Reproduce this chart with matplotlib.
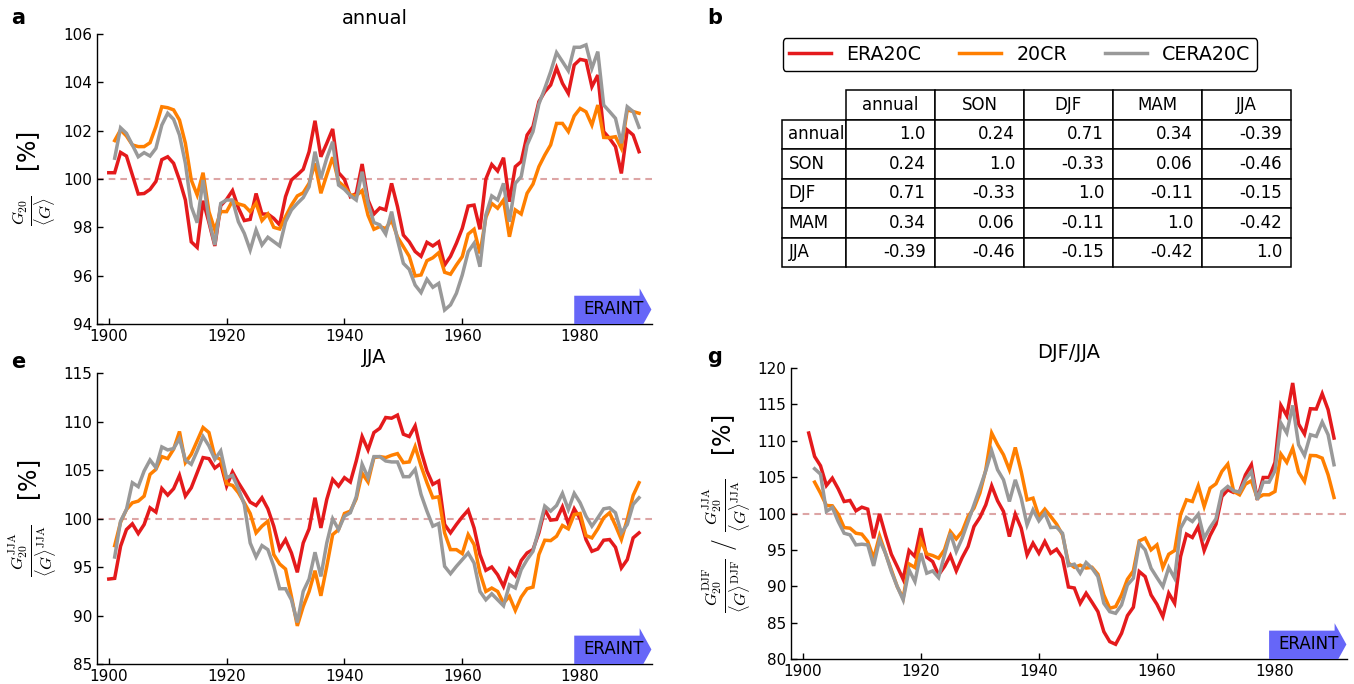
import numpy as np
import matplotlib
matplotlib.use('Agg')
import matplotlib.pyplot as plt
import matplotlib.transforms as mtransforms
from matplotlib.patches import Polygon
from matplotlib.table import Table

plt.rcParams['font.family'] = ['DejaVu Sans']
plt.rcParams['mathtext.fontset'] = 'cm'

# ---------------- data ----------------
series_names = ['ERA20C', '20CR', 'CERA20C']

# panel a (annual)
annual_era20c_start = 1900
annual_era20c = [100.26, 100.26, 101.1, 100.95, 100.17, 99.38, 99.4, 99.57, 99.9, 100.8,
                 100.92, 100.65, 99.96, 99.13, 97.4, 97.17, 99.1, 98.2, 97.23, 98.9,
                 99.16, 99.52, 98.8, 98.28, 98.33, 99.4, 98.55, 98.55, 98.37, 98.1,
                 99.27, 99.96, 100.17, 100.4, 101.13, 102.41, 100.92, 101.48, 102.07, 100.26,
                 99.99, 99.27, 99.4, 100.62, 99.13, 98.55, 98.8, 98.72, 99.82, 98.86,
                 97.68, 97.4, 97.0, 96.8, 97.38, 97.23, 97.4, 96.44, 96.8, 97.34,
                 97.96, 98.88, 98.92, 97.92, 100.0, 100.6, 100.33, 100.88, 99.06, 100.51,
                 100.72, 101.82, 102.17, 103.2, 103.61, 103.89, 104.6, 103.96, 103.54, 104.72,
                 104.95, 104.9, 103.82, 104.3, 101.96, 101.68, 101.34, 100.23, 102.03, 101.82,
                 101.13]
annual_20cr_start = 1901
annual_20cr = [101.59, 102.03, 101.78, 101.41, 101.34, 101.34, 101.5, 102.17, 102.99, 102.95,
               102.86, 102.44, 101.48, 99.96, 99.34, 100.26, 98.65, 97.89, 98.65, 98.65,
               99.1, 98.97, 98.9, 98.65, 99.0, 98.28, 98.55, 98.0, 97.93, 98.44,
               98.92, 99.3, 99.43, 99.82, 100.65, 99.41, 100.17, 100.9, 99.89, 99.68,
               99.34, 99.31, 99.52, 98.5, 97.92, 98.03, 97.95, 98.3, 97.6, 97.2,
               96.8, 95.99, 96.03, 96.62, 96.74, 96.95, 96.14, 96.06, 96.44, 96.79,
               97.72, 97.92, 96.92, 98.41, 98.99, 98.79, 99.13, 97.61, 98.72, 98.55,
               99.41, 99.79, 100.51, 100.99, 101.41, 102.3, 102.3, 101.96, 102.61, 102.92,
               102.78, 102.23, 103.06, 101.72, 101.71, 101.75, 101.27, 102.86, 102.79, 102.72]
annual_cera20c_start = 1901
annual_cera20c = [100.86, 102.12, 101.89, 101.41, 100.92, 101.09, 100.95, 101.27, 102.23, 102.72,
                  102.47, 101.82, 100.65, 98.86, 98.19, 99.96, 98.3, 97.27, 98.99, 99.13,
                  99.13, 98.23, 97.75, 97.06, 97.89, 97.27, 97.59, 97.41, 97.23, 98.23,
                  98.72, 98.99, 99.23, 99.68, 101.13, 100.03, 100.86, 101.54, 99.75, 99.57,
                  99.31, 99.13, 100.3, 98.99, 98.2, 98.1, 97.72, 98.65, 97.48, 96.51,
                  96.26, 95.61, 95.3, 95.85, 95.52, 95.68, 94.58, 94.79, 95.27, 96.03,
                  96.99, 97.34, 96.37, 98.51, 99.3, 99.13, 99.82, 98.23, 99.82, 100.1,
                  101.41, 101.96, 103.1, 103.75, 104.44, 105.23, 104.86, 104.48, 105.45, 105.45,
                  105.55, 104.58, 105.27, 103.06, 102.79, 102.51, 101.48, 102.99, 102.79, 102.14]

# panel e (JJA)
jja_era20c_start = 1900
jja_era20c = [93.76, 93.83, 97.14, 98.86, 99.45, 98.45, 99.38, 101.1, 100.66, 103.1,
              102.41, 103.07, 104.45, 102.31, 103.17, 104.72, 106.28, 106.17, 105.2, 105.66,
              103.34, 104.8, 103.69, 102.72, 101.69, 101.34, 102.14, 101.0, 99.21, 96.86,
              97.83, 96.45, 94.45, 97.48, 98.93, 102.14, 99.03, 101.97, 104.03, 103.34,
              104.21, 103.76, 105.93, 108.45, 107.07, 108.86, 109.3, 110.41, 110.34, 110.66,
              108.69, 108.45, 109.55, 106.97, 104.9, 103.52, 103.86, 99.38, 98.52, 99.38,
              100.17, 100.86, 99.03, 96.28, 94.66, 95.0, 94.2, 93.0, 94.79, 94.1,
              95.66, 96.45, 96.8, 98.52, 100.93, 99.83, 99.9, 101.2, 99.48, 101.0,
              99.97, 97.83, 96.62, 96.86, 97.76, 97.83, 97.03, 94.9, 95.76, 98.0, 98.52]
jja_20cr_start = 1901
jja_20cr = [97.2, 99.62, 100.93, 101.62, 101.79, 102.31, 104.55, 105.07, 106.38, 106.17,
            107.14, 108.97, 105.76, 106.62, 108.0, 109.38, 108.86, 106.38, 106.1, 103.59,
            103.41, 102.66, 101.62, 100.52, 98.52, 99.21, 99.72, 96.28, 95.31, 94.79,
            91.97, 88.93, 90.93, 92.48, 94.62, 92.03, 95.07, 98.34, 98.86, 100.52,
            100.76, 102.03, 104.66, 103.76, 106.28, 106.38, 106.28, 106.52, 106.69, 105.76,
            105.83, 107.41, 105.41, 103.69, 102.14, 102.24, 98.52, 96.79, 96.79, 96.38,
            98.34, 97.31, 94.38, 92.48, 92.83, 92.48, 91.28, 91.97, 90.52, 91.9,
            92.76, 92.93, 96.28, 97.76, 97.72, 98.17, 99.28, 98.93, 100.41, 100.52,
            98.24, 98.0, 98.93, 100.07, 100.59, 99.28, 97.83, 99.9, 102.38, 103.69]
jja_cera20c_start = 1901
jja_cera20c = [96.03, 99.72, 100.93, 103.69, 103.28, 104.9, 106.03, 105.24, 107.38, 107.07,
               107.21, 108.24, 106.03, 105.59, 106.97, 108.45, 107.48, 106.1, 106.97, 104.21,
               104.45, 103.07, 101.45, 97.48, 96.03, 97.21, 96.79, 95.07, 92.76, 92.76,
               91.62, 89.28, 92.48, 93.76, 96.52, 94.03, 97.48, 99.97, 98.86, 100.24,
               100.59, 102.24, 105.59, 104.21, 106.38, 106.38, 105.93, 105.83, 105.83, 104.31,
               104.31, 105.07, 102.48, 100.76, 99.21, 99.48, 95.07, 94.31, 95.07, 95.76,
               96.45, 95.41, 92.48, 91.62, 92.24, 91.62, 91.0, 93.17, 92.83, 94.72,
               95.76, 96.62, 98.86, 101.28, 100.76, 101.34, 102.59, 100.93, 102.59, 101.62,
               100.24, 99.21, 100.07, 101.0, 101.1, 100.59, 98.52, 99.38, 101.45, 102.14]

# panel g (DJF/JJA)
ratio_era20c_start = 1901
ratio_era20c = [111.06, 107.84, 106.56, 103.85, 104.86, 103.39, 101.65, 101.79, 100.37, 100.87,
                100.6, 96.6, 99.95, 97.06, 94.4, 92.71, 90.96, 94.91, 94.08, 97.98,
                93.99, 93.39, 91.56, 92.71, 94.22, 92.11, 93.94, 95.46, 98.21, 99.45,
                101.19, 103.81, 101.74, 100.28, 96.83, 99.91, 97.98, 94.31, 95.92, 94.54,
                96.15, 94.54, 95.09, 93.9, 89.9, 89.76, 87.66, 89.04, 87.8, 86.51,
                83.76, 82.39, 82.02, 83.53, 85.96, 87.11, 92.02, 91.33, 88.81, 87.52,
                85.83, 89.04, 87.66, 94.08, 97.16, 96.7, 98.21, 94.91, 96.97, 98.53,
                102.34, 103.26, 102.89, 103.03, 105.32, 106.7, 101.88, 104.95, 104.95, 107.02,
                114.86, 113.44, 117.94, 112.29, 110.92, 114.4, 114.36, 116.47, 114.27, 110.37]
ratio_20cr_start = 1902
ratio_20cr = [104.31, 102.8, 101.1, 101.06, 99.91, 98.07, 97.98, 97.29, 97.16,
              96.15, 93.85, 96.93, 94.54, 92.25, 89.95, 88.35, 93.07, 92.57, 96.28,
              94.45, 94.22, 93.85, 95.0, 97.52, 96.51, 97.52, 99.59, 100.73, 102.8,
              106.01, 111.06, 109.45, 108.07, 106.01, 109.08, 105.78, 101.88, 102.11, 99.59,
              100.6, 99.59, 98.53, 97.06, 93.2, 92.6, 92.9, 92.5, 92.6, 91.65,
              88.81, 86.97, 87.2, 88.81, 90.96, 92.11, 96.24, 96.61, 95.0, 95.69,
              92.57, 94.4, 94.91, 99.82, 101.88, 101.65, 103.81, 100.96, 103.49, 104.08,
              105.78, 106.79, 103.03, 102.57, 104.04, 104.5, 102.11, 102.57, 102.57, 103.03,
              108.17, 107.02, 108.99, 105.69, 104.4, 107.98, 107.94, 107.61, 105.32, 102.2]
ratio_cera20c_start = 1902
ratio_cera20c = [106.15, 105.41, 100.28, 100.83, 98.9, 97.29, 97.06, 95.69, 95.78,
                 95.69, 92.8, 96.38, 94.54, 92.02, 89.95, 88.12, 92.25, 90.64, 94.54,
                 91.79, 92.11, 91.19, 94.31, 97.29, 94.77, 96.61, 98.9, 101.19, 103.49,
                 105.87, 108.62, 106.01, 104.63, 101.65, 104.63, 102.11, 98.44, 100.5, 98.99,
                 100.05, 98.07, 98.12, 97.29, 92.84, 93.03, 91.79, 93.26, 92.48, 91.33,
                 87.66, 86.51, 86.28, 87.43, 90.18, 91.1, 95.92, 95.0, 92.48, 91.19,
                 89.95, 92.57, 91.1, 97.98, 99.45, 98.9, 99.91, 96.61, 98.07, 99.27,
                 103.03, 103.72, 103.12, 102.94, 104.63, 105.78, 101.88, 104.31, 104.31, 105.87,
                 112.43, 111.06, 114.86, 109.45, 107.98, 110.83, 110.6, 112.57, 110.83, 106.7]

# panel b (correlation table)
table_labels = ['annual', 'SON', 'DJF', 'MAM', 'JJA']
table_values = [[1.0, 0.24, 0.71, 0.34, -0.39],
                [0.24, 1.0, -0.33, 0.06, -0.46],
                [0.71, -0.33, 1.0, -0.11, -0.15],
                [0.34, 0.06, -0.11, 1.0, -0.42],
                [-0.39, -0.46, -0.15, -0.42, 1.0]]

eraint_start = 1979
xticks = [1900, 1920, 1940, 1960, 1980]

# ---------------- style ----------------
COLORS = ['#e41a1c', '#ff7f00', '#999999']
LW = 2.5
W, H = 1354, 684

fig = plt.figure(figsize=(W / 100, H / 100), dpi=100)


def fax(l, t, r, b):
    return fig.add_axes([l / W, 1 - b / H, (r - l) / W, (b - t) / H])


def draw_panel(ax, data, ylim, yticks, title, ylabel):
    handles = []
    for (start, vals), c in zip(data, COLORS):
        yrs = np.arange(start, start + len(vals))
        h, = ax.plot(yrs, vals, color=c, lw=LW, zorder=3, solid_joinstyle='miter')
        handles.append(h)
    ax.axhline(100, color='#dda5a5', lw=1.5, ls=(0, (3.2, 2.4)), zorder=1)
    ax.set_xlim(1898, 1992.2)
    ax.set_ylim(*ylim)
    ax.set_yticks(yticks)
    ax.set_xticks(xticks)
    for s in ['top', 'right']:
        ax.spines[s].set_visible(False)
    for s in ['left', 'bottom']:
        ax.spines[s].set_linewidth(1.0)
    ax.tick_params(direction='in', length=4, width=1, labelsize=11,
                   top=False, right=False)
    ax.set_title(title, fontsize=14, pad=7)
    ax.set_ylabel(ylabel, fontsize=17, labelpad=4)
    trans = mtransforms.blended_transform_factory(ax.transData, ax.transAxes)
    x0, xb, xt = eraint_start, 1990.1, 1992.1
    pts = [(x0, 0.0), (x0, 0.0975), (xb, 0.0975), (xb, 0.123), (xt, 0.05),
           (xb, -0.023), (xb, 0.0)]
    ax.add_patch(Polygon(pts, closed=True, transform=trans, facecolor='#6666f8',
                         edgecolor='none', zorder=4))
    ax.text(1985.7, 0.05, 'ERAINT', transform=trans, ha='center', va='center',
            fontsize=12, zorder=5)
    return handles


ax_a = fax(97, 34, 652, 324)
handles = draw_panel(ax_a,
                     [(annual_era20c_start, annual_era20c),
                      (annual_20cr_start, annual_20cr),
                      (annual_cera20c_start, annual_cera20c)],
                     (94, 106), np.arange(94, 107, 2), 'annual',
                     r'$\frac{G_{20}}{\langle G\rangle}$   [%]')

ax_e = fax(97, 373, 652, 664)
draw_panel(ax_e,
           [(jja_era20c_start, jja_era20c),
            (jja_20cr_start, jja_20cr),
            (jja_cera20c_start, jja_cera20c)],
           (85, 115), np.arange(85, 116, 5), 'JJA',
           r'$\frac{G_{20}^{\rm JJA}}{\langle G\rangle^{\rm JJA}}$   [%]')

ax_g = fax(791, 368, 1347, 659)
draw_panel(ax_g,
           [(ratio_era20c_start, ratio_era20c),
            (ratio_20cr_start, ratio_20cr),
            (ratio_cera20c_start, ratio_cera20c)],
           (80, 120), np.arange(80, 121, 5), 'DJF/JJA',
           r'$\frac{G_{20}^{\rm DJF}}{\langle G\rangle^{\rm DJF}}\ /\ '
           r'\frac{G_{20}^{\rm JJA}}{\langle G\rangle^{\rm JJA}}$   [%]')

# legend
fig.legend(handles, series_names, loc='center',
           bbox_to_anchor=(1020 / W, 1 - 54.5 / H), ncol=3, fontsize=13.7,
           frameon=True, fancybox=True, edgecolor='black', framealpha=1,
           handlelength=2.2, handletextpad=0.8, columnspacing=2.0,
           borderpad=0.35)

# table
ax_t = fax(782, 90, 1291, 267)
ax_t.axis('off')
tbl = Table(ax_t, bbox=[0, 0, 1, 1])
widths = [64] + [89.2] * len(table_labels)
nrow = len(table_labels) + 1
rh = 1.0 / nrow
tbl.add_cell(0, 0, widths[0], rh, text='', loc='center').visible_edges = 'open'
for j, lab in enumerate(table_labels):
    tbl.add_cell(0, j + 1, widths[j + 1], rh, text=lab, loc='center')
for i, lab in enumerate(table_labels):
    tbl.add_cell(i + 1, 0, widths[0], rh, text=lab, loc='left')
    for j, v in enumerate(table_values[i]):
        tbl.add_cell(i + 1, j + 1, widths[j + 1], rh, text=str(v), loc='right')
tbl.auto_set_font_size(False)
tbl.set_fontsize(12)
for cell in tbl.get_celld().values():
    cell.set_linewidth(1.1)
ax_t.add_table(tbl)

# panel letters
for txt, x, y in [('a', 18, 18), ('b', 715, 18), ('e', 18, 362), ('g', 715, 357)]:
    fig.text(x / W, 1 - y / H, txt, ha='center', va='center', fontsize=15,
             fontweight='bold')

fig.savefig('out.png', dpi=100)
